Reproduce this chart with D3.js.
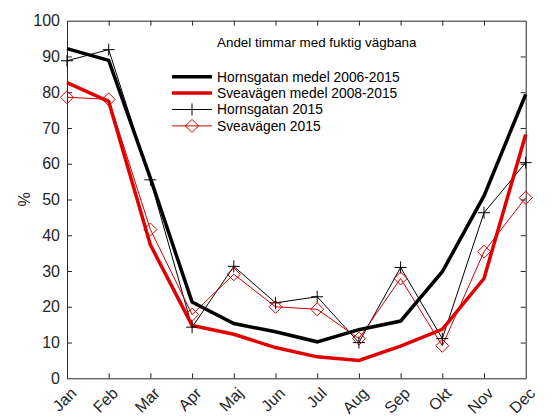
<!DOCTYPE html>
<html><head><meta charset="utf-8">
<script src="https://cdn.jsdelivr.net/npm/d3@7"></script>
<style>body{margin:0;background:#fff}svg{display:block}text{font-family:"Liberation Sans",Arial,Helvetica,sans-serif}</style>
</head><body>
<script>
const months = ["Jan","Feb","Mar","Apr","Maj","Jun","Jul","Aug","Sep","Okt","Nov","Dec"];
const hornsMedel = [92.2, 88.9, 56, 21.3, 15.3, 13, 10.2, 13.6, 16, 29.8, 51, 79.4];
const sveaMedel = [82.7, 77.4, 37.3, 14.8, 12.3, 8.6, 6, 5, 9, 13.7, 27.9, 68.2];
const horns2015 = [88.8, 91.9, 55.5, 14.3, 31.3, 21.1, 22.8, 10, 31, 11.1, 46.3, 60.3];
const svea2015 = [78.6, 78, 41.6, 17.8, 29.1, 20, 19.3, 11.1, 27.9, 9.1, 35.4, 50.5];
const yTicks = [0,10,20,30,40,50,60,70,80,90,100];
const title = "Andel timmar med fuktig vägbana";
const legendLabels = ["Hornsgatan medel 2006-2015","Sveavägen medel 2008-2015","Hornsgatan 2015","Sveavägen 2015"];

const W=560,H=420, m={l:67,r:34.3,t:20.7,b:41.7};
const svg=d3.select("body").append("svg").attr("width",W).attr("height",H);
const x=d3.scalePoint().domain(months).range([m.l,W-m.r]);
const y=d3.scaleLinear().domain([0,100]).range([H-m.b,m.t]);
const axColor="#262626";
const tl=5;

// axes
const gB=svg.append("g").attr("transform",`translate(0,${H-m.b})`)
  .call(d3.axisBottom(x).tickSizeInner(-tl).tickSizeOuter(0));
gB.selectAll("text").attr("x",0).attr("y",0).attr("dy","0.35em").attr("text-anchor","end")
  .attr("transform","translate(6,12) rotate(-45)");
const gT=svg.append("g").attr("transform",`translate(0,${m.t})`)
  .call(d3.axisTop(x).tickSizeInner(-tl).tickSizeOuter(0).tickFormat(""));
const gL=svg.append("g").attr("transform",`translate(${m.l},0)`)
  .call(d3.axisLeft(y).tickValues(yTicks).tickSizeInner(-tl).tickSizeOuter(0).tickPadding(7));
const gR=svg.append("g").attr("transform",`translate(${W-m.r},0)`)
  .call(d3.axisRight(y).tickValues(yTicks).tickSizeInner(-tl).tickSizeOuter(0).tickFormat(""));
[gB,gT,gL,gR].forEach(g=>{
  g.select(".domain").attr("stroke",axColor).attr("stroke-width",1);
  g.selectAll(".tick line").attr("stroke",axColor);
  g.selectAll("text").attr("fill",axColor).style("font-size","16px");
});
gT.selectAll(".tick").filter(d=>d==="Jan"||d==="Dec").select("line").remove();
gB.selectAll(".tick").filter(d=>d==="Jan"||d==="Dec").select("line").remove();
gL.selectAll(".tick").filter(d=>d===0||d===100).select("line").remove();
gR.selectAll(".tick").filter(d=>d===0||d===100).select("line").remove();

svg.append("text").attr("transform",`translate(30,${(m.t+H-m.b)/2}) rotate(-90)`)
  .attr("text-anchor","middle").attr("fill",axColor).style("font-size","16px").text("%");

const line=d3.line().x((d,i)=>x(months[i])).y(d=>y(d));
const series=[
  {data:hornsMedel,color:"#000",w:3.5,marker:null},
  {data:sveaMedel,color:"#e00000",w:3.5,marker:null},
  {data:horns2015,color:"#000",w:1,marker:"plus"},
  {data:svea2015,color:"#cc0000",w:1,marker:"diamond"}
];
const drawn=[series[2],series[3],series[0],series[1]];
drawn.forEach(s=>{
  svg.append("path").datum(s.data).attr("d",line).attr("fill","none")
    .attr("stroke",s.color).attr("stroke-width",s.w).attr("stroke-linejoin","miter");
});
function marker(g,type,cx,cy,color){
  if(type==="plus"){
    g.append("path").attr("d",`M${cx-6},${cy}H${cx+6}M${cx},${cy-6}V${cy+6}`).attr("stroke",color).attr("stroke-width",1).attr("fill","none");
  } else if(type==="diamond"){
    g.append("path").attr("d",`M${cx},${cy-6.5}L${cx+6.5},${cy}L${cx},${cy+6.5}L${cx-6.5},${cy}Z`).attr("stroke",color).attr("stroke-width",1).attr("fill","none");
  }
}
series.forEach(s=>{
  if(!s.marker) return;
  const g=svg.append("g");
  s.data.forEach((d,i)=>marker(g,s.marker,x(months[i]),y(d),s.color));
});

// legend
svg.append("text").attr("x",217).attr("y",47).attr("fill","#000").style("font-size","13.4px").text(title);
const ly0=76.7, ldy=16.4;
series.forEach((s,i)=>{
  const yy=ly0+i*ldy;
  svg.append("line").attr("x1",172).attr("x2",212).attr("y1",yy).attr("y2",yy).attr("stroke",s.color).attr("stroke-width",s.w);
  if(s.marker){const g=svg.append("g");marker(g,s.marker,192,yy,s.color);}
  svg.append("text").attr("x",217).attr("y",yy).attr("dy","0.35em").attr("fill","#000").style("font-size","13.8px").text(legendLabels[i]);
});
</script>
</body></html>
